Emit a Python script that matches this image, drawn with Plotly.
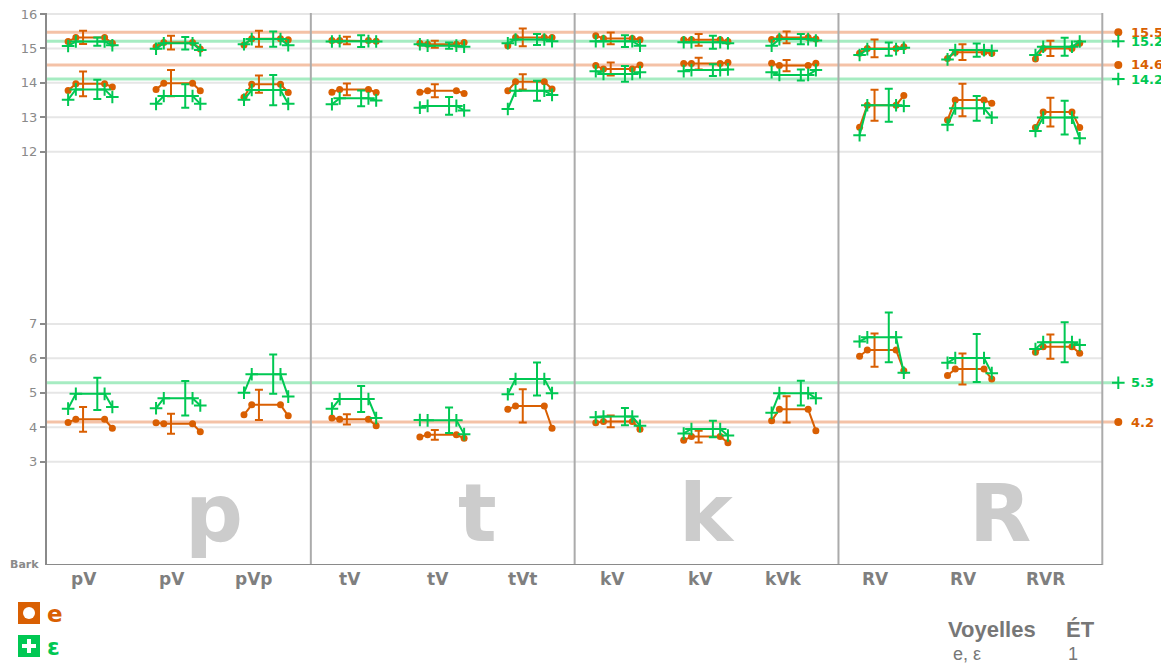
import plotly.graph_objects as go

categories = ["pV", "pV", "pVp", "tV", "tV", "tVt", "kV", "kV", "kVk", "RV", "RV", "RVR"]
consonants = ["p", "t", "k", "R"]
ytick_vals = [3, 4, 5, 6, 7, 12, 13, 14, 15, 16]

# (start, mean, end, sd) for each group — vowel e
e_high = [(15.20, 15.32, 15.15, 0.19), (15.05, 15.17, 14.98, 0.20), (15.10, 15.28, 15.25, 0.23),
          (15.23, 15.23, 15.21, 0.11), (15.15, 15.12, 15.17, 0.10), (15.08, 15.32, 15.32, 0.26),
          (15.37, 15.29, 15.25, 0.17), (15.25, 15.25, 15.20, 0.17), (15.26, 15.32, 15.27, 0.17),
          (14.86, 15.00, 15.05, 0.26), (14.71, 14.89, 14.86, 0.23), (14.69, 15.00, 15.15, 0.22)]
e_mid = [(13.78, 13.97, 13.88, 0.36), (13.81, 13.99, 13.77, 0.38), (13.58, 13.96, 13.72, 0.25),
         (13.73, 13.81, 13.72, 0.17), (13.73, 13.77, 13.69, 0.19), (13.77, 14.03, 13.82, 0.22),
         (14.50, 14.40, 14.52, 0.19), (14.56, 14.56, 14.59, 0.17), (14.57, 14.50, 14.57, 0.16),
         (12.71, 13.35, 13.63, 0.45), (12.92, 13.50, 13.41, 0.47), (12.70, 13.15, 12.70, 0.42)]
e_low = [(4.14, 4.23, 3.97, 0.36), (4.13, 4.10, 3.87, 0.29), (4.36, 4.65, 4.33, 0.44),
         (4.27, 4.23, 4.04, 0.15), (3.72, 3.78, 3.68, 0.14), (4.52, 4.62, 3.97, 0.48),
         (4.13, 4.17, 3.94, 0.17), (3.62, 3.73, 3.55, 0.17), (4.19, 4.52, 3.90, 0.38),
         (6.06, 6.24, 5.64, 0.48), (5.50, 5.69, 5.40, 0.45), (6.18, 6.34, 6.15, 0.35)]

# vowel ε
eps_high = [(15.07, 15.20, 15.09, 0.12), (14.99, 15.15, 14.95, 0.18), (15.12, 15.27, 15.09, 0.22),
            (15.20, 15.21, 15.20, 0.17), (15.12, 15.08, 15.05, 0.09), (15.15, 15.26, 15.21, 0.16),
            (15.21, 15.21, 15.08, 0.17), (15.18, 15.18, 15.15, 0.19), (15.08, 15.27, 15.23, 0.15),
            (14.81, 14.98, 15.02, 0.19), (14.68, 14.95, 14.93, 0.19), (14.81, 15.05, 15.20, 0.26)]
eps_mid = [(13.51, 13.81, 13.59, 0.28), (13.39, 13.62, 13.39, 0.34), (13.51, 13.79, 13.39, 0.44),
           (13.38, 13.55, 13.49, 0.23), (13.28, 13.33, 13.20, 0.26), (13.24, 13.77, 13.65, 0.29),
           (14.34, 14.26, 14.31, 0.23), (14.34, 14.37, 14.39, 0.17), (14.31, 14.23, 14.37, 0.16),
           (12.48, 13.35, 13.33, 0.48), (12.78, 13.26, 12.99, 0.36), (12.60, 12.99, 12.39, 0.49)]
eps_low = [(4.54, 4.97, 4.59, 0.47), (4.55, 4.84, 4.63, 0.50), (5.00, 5.54, 4.89, 0.57),
           (4.54, 4.82, 4.27, 0.38), (4.21, 4.20, 3.80, 0.37), (4.96, 5.40, 4.99, 0.48),
           (4.29, 4.31, 4.04, 0.25), (3.82, 3.95, 3.76, 0.24), (4.42, 4.99, 4.84, 0.36),
           (6.49, 6.61, 5.58, 0.72), (5.87, 6.01, 5.57, 0.70), (6.27, 6.47, 6.39, 0.58)]

# reference (mean) lines
ref_e_vals = [15.47, 14.52, 4.15]
ref_e_labels = ["15.5", "14.6", "4.2"]
ref_eps_vals = [15.21, 14.11, 5.29]
ref_eps_labels = ["15.2", "14.2", "5.3"]

ORANGE = "#d95f02"
GREEN = "#00c853"
GRAY_TXT = "#7f7f7f"

# the page body has an 8px margin; size the figure so the plot area lands
# at x 47..1102, y 13..565 of the window
PAGE_OFF = 8
W, H = 1169 - PAGE_OFF, 663 - PAGE_OFF
ML, MT, MB = 47 - PAGE_OFF, 13 - PAGE_OFF, 98
PW = W - ML
PH = H - MT - MB
UNIT = (1102 - 46.7) / 12.0
XMAX = PW / UNIT
YMAX = PH / 34.44
LEFT_PX, BOTTOM_PX = 47, 565

def px2x(px):
    return (px - LEFT_PX) / PW

def px2y(py):
    return (BOTTOM_PX - py) / PH

offs = [-0.26, -0.172, 0.155, 0.243]
eb_off = {"e": -0.09, "eps": 0.072}

fig = go.Figure()

def add_vowel(bands, color, symbol, key, msize, mline):
    xs, ys, ebx, eby, ebe = [], [], [], [], []
    for band in bands:
        for i, (s, m, e, sd) in enumerate(band):
            c = i + 0.5
            xs += [c + o for o in offs] + [None]
            ys += [s, m, m, e, None]
            ebx.append(c + eb_off[key])
            eby.append(m)
            ebe.append(sd)
    fig.add_trace(go.Scatter(
        x=xs, y=ys, mode="lines+markers",
        line=dict(color=color, width=2),
        marker=dict(symbol=symbol, size=msize, color=color,
                    line=dict(color=color, width=mline)),
        showlegend=False, hoverinfo="skip"))
    fig.add_trace(go.Scatter(
        x=ebx, y=eby, mode="markers",
        marker=dict(size=0.1, color=color, opacity=0),
        error_y=dict(type="data", array=ebe, visible=True, color=color,
                     thickness=2, width=4),
        showlegend=False, hoverinfo="skip"))

add_vowel([e_high, e_mid, e_low], ORANGE, "circle", "e", 7, 0)
add_vowel([eps_high, eps_mid, eps_low], GREEN, "cross-thin", "eps", 9, 2)

shapes = []
# grid lines
for v in ytick_vals:
    shapes.append(dict(type="line", xref="x", yref="y", x0=0, x1=12, y0=v, y1=v,
                       line=dict(color="#e6e6e6", width=2), layer="below"))
# reference lines
REF_X = 12 + (1118 - 1102) / UNIT
for v in ref_e_vals:
    shapes.append(dict(type="line", xref="x", yref="y", x0=0, x1=REF_X, y0=v, y1=v,
                       line=dict(color="rgba(230,120,60,0.45)", width=3), layer="below"))
for v in ref_eps_vals:
    shapes.append(dict(type="line", xref="x", yref="y", x0=0, x1=REF_X, y0=v, y1=v,
                       line=dict(color="rgba(0,200,80,0.35)", width=3), layer="below"))
# separators and right border
for xv in [3, 6, 9, 12]:
    shapes.append(dict(type="line", xref="x", yref="y", x0=xv, x1=xv, y0=0, y1=YMAX,
                       line=dict(color="#ababab", width=2), layer="below"))
# bottom axis line
shapes.append(dict(type="line", xref="x", yref="y", x0=0, x1=12, y0=0, y1=0,
                   line=dict(color="#8a8a8a", width=2), layer="below"))

# legend squares
shapes.append(dict(type="rect", xref="paper", yref="paper", x0=px2x(18), x1=px2x(40),
                   y0=px2y(624), y1=px2y(602), fillcolor=ORANGE, line=dict(width=0)))
shapes.append(dict(type="circle", xref="paper", yref="paper", x0=px2x(23), x1=px2x(35),
                   y0=px2y(619), y1=px2y(607), fillcolor="white", line=dict(width=0)))
shapes.append(dict(type="rect", xref="paper", yref="paper", x0=px2x(18), x1=px2x(40),
                   y0=px2y(657), y1=px2y(635), fillcolor=GREEN, line=dict(width=0)))
shapes.append(dict(type="rect", xref="paper", yref="paper", x0=px2x(22), x1=px2x(36),
                   y0=px2y(648), y1=px2y(644), fillcolor="white", line=dict(width=0)))
shapes.append(dict(type="rect", xref="paper", yref="paper", x0=px2x(27), x1=px2x(31),
                   y0=px2y(653), y1=px2y(639), fillcolor="white", line=dict(width=0)))

# reference markers
fig.add_trace(go.Scatter(
    x=[REF_X] * len(ref_e_vals), y=ref_e_vals, mode="markers",
    marker=dict(symbol="circle", size=8, color=ORANGE),
    cliponaxis=False, showlegend=False, hoverinfo="skip"))
fig.add_trace(go.Scatter(
    x=[REF_X] * len(ref_eps_vals), y=ref_eps_vals, mode="markers",
    marker=dict(symbol="cross-thin", size=9, color=GREEN, line=dict(color=GREEN, width=2)),
    cliponaxis=False, showlegend=False, hoverinfo="skip"))

annotations = []
LABEL_X = 12 + (1129 - 1102) / UNIT
for v, t in zip(ref_e_vals, ref_e_labels):
    annotations.append(dict(x=LABEL_X, y=v, xref="x", yref="y", text=t, showarrow=False,
                            xanchor="left", yanchor="middle",
                            font=dict(family="DejaVu Sans", size=13, color=ORANGE, weight="bold")))
for v, t in zip(ref_eps_vals, ref_eps_labels):
    annotations.append(dict(x=LABEL_X, y=v, xref="x", yref="y", text=t, showarrow=False,
                            xanchor="left", yanchor="middle",
                            font=dict(family="DejaVu Sans", size=13, color=GREEN, weight="bold")))
for i, cat in enumerate(categories):
    annotations.append(dict(x=i + 0.5 + 0.095, y=px2y(579), xref="x", yref="paper",
                            text=cat, showarrow=False, xanchor="right", yanchor="middle",
                            font=dict(family="DejaVu Sans", size=17, color=GRAY_TXT, weight="bold")))
big_x = [1.90, 4.90, 7.50, 10.84]
for xv, c in zip(big_x, consonants):
    annotations.append(dict(x=xv, y=px2y(513), xref="x", yref="paper", text=c,
                            showarrow=False, xanchor="center", yanchor="middle",
                            font=dict(family="DejaVu Sans", size=81, color="#cccccc", weight="bold")))
annotations.append(dict(x=px2x(41), y=px2y(564), xref="paper", yref="paper", text="Bark",
                        showarrow=False, xanchor="right", yanchor="middle",
                        font=dict(family="DejaVu Sans", size=11, color="#8a8a8a", weight="bold")))
annotations.append(dict(x=px2x(45), y=px2y(614), xref="paper", yref="paper", text="e",
                        showarrow=False, xanchor="left", yanchor="middle",
                        font=dict(family="DejaVu Sans", size=23, color=ORANGE, weight="bold")))
annotations.append(dict(x=px2x(45), y=px2y(647), xref="paper", yref="paper", text="ε",
                        showarrow=False, xanchor="left", yanchor="middle",
                        font=dict(family="DejaVu Sans", size=23, color=GREEN, weight="bold")))
annotations.append(dict(x=px2x(946), y=px2y(629), xref="paper", yref="paper", text="Voyelles",
                        showarrow=False, xanchor="left", yanchor="middle",
                        font=dict(family="Liberation Sans", size=22, color="#777777", weight="bold")))
annotations.append(dict(x=px2x(1064), y=px2y(629), xref="paper", yref="paper", text="ÉT",
                        showarrow=False, xanchor="left", yanchor="middle",
                        font=dict(family="Liberation Sans", size=22, color="#777777", weight="bold")))
annotations.append(dict(x=px2x(951), y=px2y(654), xref="paper", yref="paper", text="e, ε",
                        showarrow=False, xanchor="left", yanchor="middle",
                        font=dict(family="Liberation Sans", size=18, color="#777777")))
annotations.append(dict(x=px2x(1066), y=px2y(654), xref="paper", yref="paper", text="1",
                        showarrow=False, xanchor="left", yanchor="middle",
                        font=dict(family="Liberation Sans", size=18, color="#777777")))

fig.update_layout(
    width=W, height=H,
    margin=dict(l=ML, r=0, t=MT, b=MB),
    paper_bgcolor="white", plot_bgcolor="white",
    shapes=shapes, annotations=annotations,
    showlegend=False,
    xaxis=dict(range=[0, XMAX], visible=False, fixedrange=True),
    yaxis=dict(range=[0, YMAX], tickvals=ytick_vals, ticktext=[str(v) for v in ytick_vals],
               showgrid=False, zeroline=False, showline=True, linecolor="#8a8a8a", linewidth=2,
               ticks="outside", ticklen=5, tickwidth=2, tickcolor="#8a8a8a",
               ticklabeloverflow="allow",
               tickfont=dict(family="DejaVu Sans", size=13, color="#8a8a8a"), fixedrange=True),
)

fig.write_html("out.html")
